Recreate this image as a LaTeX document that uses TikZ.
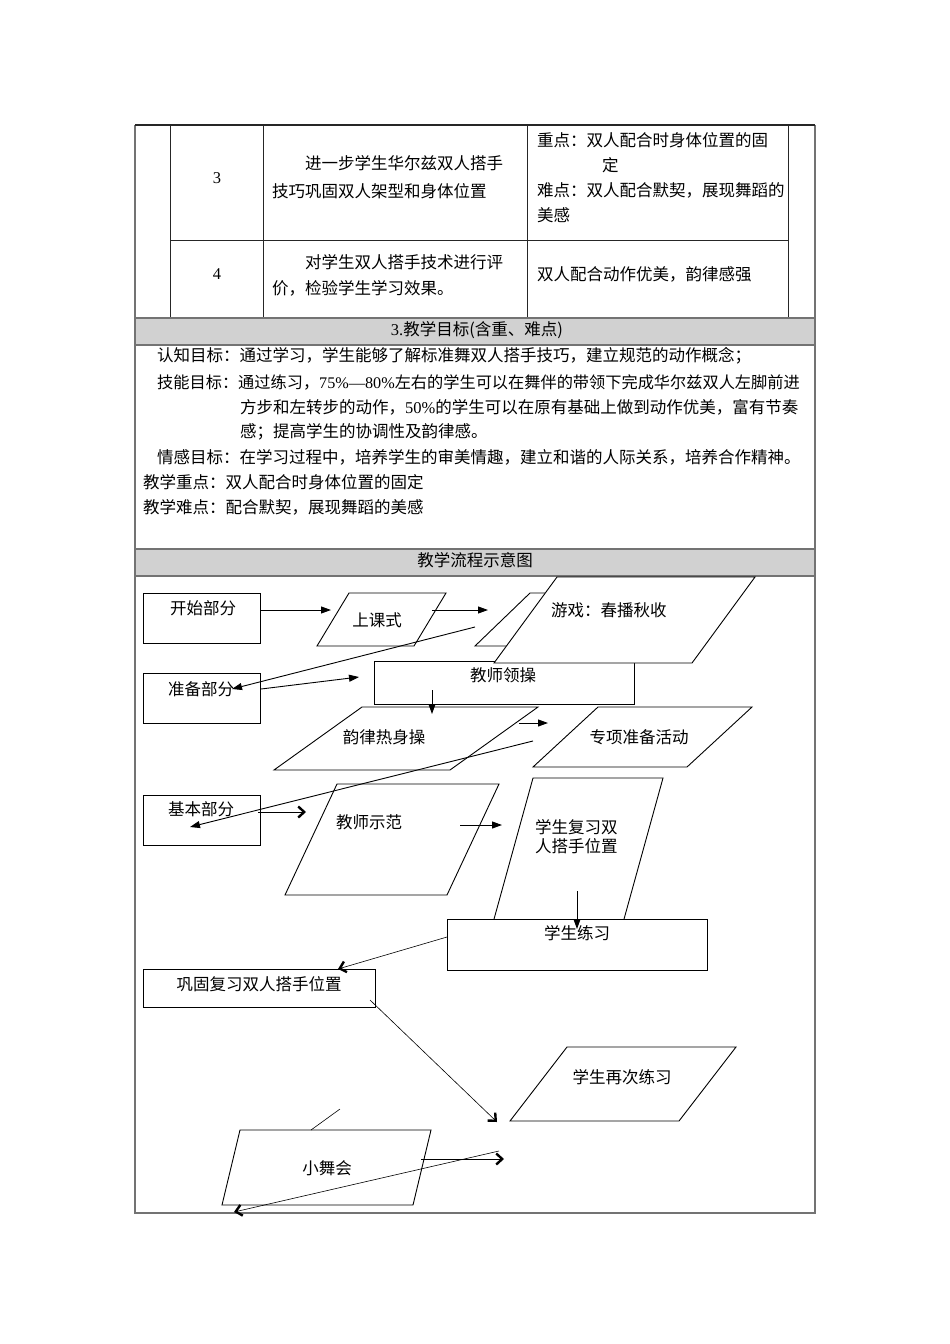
\documentclass[tikz,border=0pt]{standalone}
\usepackage{fontspec}
\setmainfont{Noto Sans CJK SC}
\newfontfamily\num{Liberation Serif}
\usetikzlibrary{arrows.meta}

% parallelogram: top-left x, top-right x, top y, bottom-left x, bottom y
\newcommand{\pgram}[5]{\draw[shp] (#1,#3) -- (#2,#3) -- ({#4+#2-#1},#5) -- (#4,#5) -- cycle;}

\tikzset{
  txt/.style={inner sep=0pt,font=\fontsize{16.5}{19}\selectfont},
  frame/.style={draw=black!55,line width=1.2pt},
  cell/.style={draw=black!85,line width=0.9pt},
  band/.style={fill=black!18,draw=black!55,line width=1.2pt},
  shp/.style={draw,fill=white,line width=0.9pt},
  flow/.style={line width=0.9pt,-{Triangle[length=10pt,width=7pt]}},
  barb/.style={line width=0.6pt,-{Straight Barb[length=6pt,width=11pt,line width=2.4pt]}},
}

\begin{document}
\begin{tikzpicture}[x=1pt,y=-1pt]
  \useasboundingbox (0,0) rectangle (950,1344);
  % table frame
  \draw[frame] (135,125) -- (135,1213) -- (815,1213) -- (815,125);
  \draw[cell,line width=1.8pt] (135,125) -- (815,125);
  \foreach \x in {170,263,527,788} \draw[cell] (\x,125) -- (\x,318);
  \draw[cell] (170,240) -- (788,240);
  \draw[band] (135,318) rectangle (815,345);
  \draw[band] (135,549) rectangle (815,576);

  % rows 3 and 4
  \node[txt] (n3) at (217,178) {\num 3};
  \node[txt,anchor=west] (c3a) at (305,163) {进一步学生华尔兹双人搭手};
  \node[txt,anchor=west] (c3b) at (272,191) {技巧巩固双人架型和身体位置};
  \node[txt,anchor=west] (k3a) at (537,140) {重点：双人配合时身体位置的固};
  \node[txt,anchor=west] (k3b) at (602,165) {定};
  \node[txt,anchor=west] (k3c) at (537,190) {难点：双人配合默契，展现舞蹈的};
  \node[txt,anchor=west] (k3d) at (537,215) {美感};
  \node[txt] (n4) at (217,274) {\num 4};
  \node[txt,anchor=west] (c4a) at (305,262) {对学生双人搭手技术进行评};
  \node[txt,anchor=west] (c4b) at (272,288) {价，检验学生学习效果。};
  \node[txt,anchor=west] (k4a) at (537,274) {双人配合动作优美，韵律感强};

  % goals
  \node[txt] (goalhead) at (477,330) {{\num 3.}教学目标(含重、难点)};
  \node[txt,anchor=west] (g1) at (157,356) {认知目标：通过学习，学生能够了解标准舞双人搭手技巧，建立规范的动作概念；};
  \node[txt,anchor=west,font=\fontsize{16.2}{19}\selectfont] (g2) at (157,382) {技能目标：通过练习，{\num 75\%—80\%}左右的学生可以在舞伴的带领下完成华尔兹双人左脚前进};
  \node[txt,anchor=west] (g3) at (240,407) {方步和左转步的动作，{\num 50\%}的学生可以在原有基础上做到动作优美，富有节奏};
  \node[txt,anchor=west] (g4) at (240,432) {感；提高学生的协调性及韵律感。};
  \node[txt,anchor=west] (g5) at (157,457) {情感目标：在学习过程中，培养学生的审美情趣，建立和谐的人际关系，培养合作精神。};
  \node[txt,anchor=west] (g6) at (143,482) {教学重点：双人配合时身体位置的固定};
  \node[txt,anchor=west] (g7) at (143,507) {教学难点：配合默契，展现舞蹈的美感};

  % flow chart
  \node[txt] (flowhead) at (475,560) {教学流程示意图};
  \draw[shp] (143,593) rectangle (260,643);
  \draw[shp] (143,673) rectangle (260,723);
  \draw[shp] (374,661) rectangle (634,704);
  \draw[shp] (143,795) rectangle (260,845);
  \pgram{349}{446}{593}{317}{646}
  \pgram{530}{627}{593}{475}{646}
  \pgram{557}{755}{577}{494}{663}
  \pgram{362}{538}{707}{274}{770}
  \pgram{598}{752}{707}{533}{767}
  \pgram{337}{499}{784}{285}{895}
  \pgram{533}{663}{778}{491}{930}
  \draw[shp] (447,919) rectangle (707,970);
  \draw[shp] (143,969) rectangle (375,1007);
  \pgram{567}{736}{1047}{510}{1121}
  \pgram{240}{431}{1130}{222}{1205}

  \node[txt] (kaishi) at (203,608) {开始部分};
  \node[txt] (shangke) at (377,620) {上课式};
  \node[txt,anchor=west] (youxi) at (551,610) {游戏：春播秋收};
  \node[txt] (zhunbei) at (201,689) {准备部分};
  \node[txt] (lingcao) at (503,675) {教师领操};
  \node[txt] (yunlv) at (384,737) {韵律热身操};
  \node[txt] (zhuanxiang) at (639,737) {专项准备活动};
  \node[txt] (jiben) at (201,809) {基本部分};
  \node[txt] (shifan) at (369,822) {教师示范};
  \node[txt,anchor=west] (fuxia) at (535,827) {学生复习双};
  \node[txt,anchor=west] (fuxib) at (535,846) {人搭手位置};
  \node[txt] (lianxi) at (577,933) {学生练习};
  \node[txt] (gonggu) at (259,984) {巩固复习双人搭手位置};
  \node[txt] (zaici) at (622,1077) {学生再次练习};
  \node[txt] (wuhui) at (327,1168) {小舞会};

  % connector ends
  \coordinate (p1) at (260,610);  \coordinate (q1) at (331,610);
  \coordinate (p2) at (432,610);  \coordinate (q2) at (488,610);
  \coordinate (p3) at (475,627);  \coordinate (q3) at (232,689);
  \coordinate (p4) at (261,689);  \coordinate (q4) at (359,677);
  \coordinate (p5) at (432,690);  \coordinate (q5) at (432,714);
  \coordinate (p6) at (519,723);  \coordinate (q6) at (548,723);
  \coordinate (p7) at (533,741);  \coordinate (q7) at (190,827);
  \coordinate (p8) at (258,812);  \coordinate (q8) at (306,812);
  \coordinate (p9) at (460,825);  \coordinate (q9) at (502,825);
  \coordinate (p10) at (577,891); \coordinate (q10) at (577,929);
  \coordinate (p11) at (447,937); \coordinate (q11) at (338,969);
  \coordinate (p12) at (370,1000); \coordinate (q12) at (497,1122);
  \coordinate (p13) at (340,1109); \coordinate (q13) at (311,1130);
  \coordinate (p14) at (421,1159); \coordinate (q14) at (504,1159);
  \coordinate (p15) at (499,1151); \coordinate (q15) at (234,1212);

  \foreach \i in {1,...,7,9,10} \draw[flow] (p\i) -- (q\i);
  \foreach \i in {8,11,12,14,15} \draw[barb] (p\i) -- (q\i);
  \draw[line width=0.6pt] (p13) -- (q13);
\end{tikzpicture}
\end{document}
